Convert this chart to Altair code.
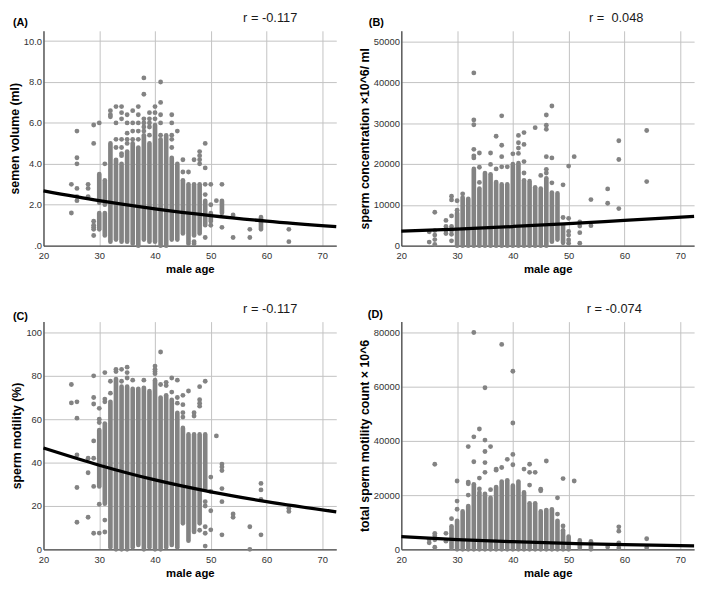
import altair as alt
import pandas as pd

FONT = "Liberation Sans"
GRAY = "#838383"
X_TICKS = [20, 30, 40, 50, 60, 70]

# ---------------- Panel A: semen volume (ml) ----------------
A_segs = [(30, 2.1, 3.5), (30, 0.8, 1.6), (31, 2.0, 3.2), (31, 0.5, 1.6),
          (32, 0.2, 5.0), (33, 0.3, 4.2), (34, 0.2, 4.0), (35, 0.2, 4.6),
          (36, 0.1, 5.0), (37, 0.0, 4.8), (38, 0.3, 5.4), (39, 0.2, 5.0),
          (40, 0.2, 5.9), (41, 0.0, 5.2), (42, 0.0, 5.4), (43, 0.3, 4.3),
          (44, 0.3, 4.0), (45, 0.6, 3.2), (46, 0.1, 3.0), (47, 0.5, 3.0),
          (48, 0.6, 3.0), (49, 1.0, 2.2), (50, 1.2, 1.6), (52, 1.6, 2.2),
          (59, 0.8, 1.4)]
A_pts = [(25, 3.0), (25, 1.6), (26, 5.6), (26, 4.3), (26, 4.0), (26, 2.8), (26, 2.4), (26, 2.2),
         (28, 3.0), (28, 2.8), (28, 2.4), (29, 5.9), (29, 5.0), (29, 1.2), (29, 1.0), (29, 0.9),
         (29, 0.8), (29, 0.5), (30, 6.0), (31, 4.0), (32, 6.6), (32, 6.4), (32, 6.3),
         (33, 6.8), (33, 6.0), (33, 5.2), (33, 4.8), (34, 6.8), (34, 6.5), (34, 6.2), (34, 5.2),
         (34, 4.8), (34, 4.5), (34, 4.4), (35, 6.4), (35, 6.0), (35, 5.5), (35, 5.2), (35, 5.0),
         (36, 6.6), (36, 6.0), (36, 5.6), (36, 5.2), (37, 6.8), (37, 6.4), (37, 6.0), (37, 5.6),
         (37, 5.2), (38, 8.2), (38, 7.4), (38, 6.2), (38, 6.0), (38, 5.8), (38, 5.6),
         (39, 6.5), (39, 6.2), (39, 6.0), (39, 5.8), (39, 5.4), (40, 6.8), (40, 6.5), (40, 6.2),
         (41, 8.0), (41, 7.0), (41, 6.4), (41, 6.0), (41, 5.4), (43, 6.4), (43, 6.0), (43, 5.4),
         (43, 5.2), (43, 4.8), (44, 5.6), (45, 4.2), (45, 3.6), (46, 3.6), (47, 4.2), (47, 0.2),
         (47, 0.1), (48, 4.6), (48, 4.4), (48, 4.2), (48, 4.0), (49, 5.0), (49, 3.8), (49, 3.0),
         (49, 2.5), (49, 0.4), (50, 3.0), (50, 2.0), (50, 1.0), (51, 2.2), (52, 3.0), (52, 0.9),
         (54, 1.5), (54, 0.4), (57, 0.8), (57, 0.4), (64, 0.8), (64, 0.2)]
A_fit = [(20, 2.68), (30, 2.2), (40, 1.8), (50, 1.47), (60, 1.2), (72.5, 0.93)]

# ---------------- Panel B: sperm concentration ----------------
B_segs = [(30, 0, 8000), (31, 0, 11800), (32, 0, 11500), (33, 0, 18800), (34, 0, 14000),
          (35, 0, 17800), (36, 0, 17500), (37, 0, 15600), (38, 0, 15000), (39, 0, 15000),
          (40, 0, 20000), (41, 0, 20200), (42, 0, 16000), (43, 0, 15800), (44, 0, 14300),
          (45, 0, 14000), (46, 0, 16500), (47, 1000, 13000), (48, 1500, 12800), (49, 700, 5000)]
B_pts = [(25, 3400), (25, 900), (26, 8200), (26, 3700), (26, 2600), (26, 1500), (26, 300),
         (28, 6200), (28, 4700), (28, 3800), (28, 3000), (29, 12100), (29, 11200), (29, 7300),
         (29, 4700), (29, 3700), (29, 2800), (29, 1200), (30, 11000), (30, 8700), (31, 12700),
         (33, 42300), (33, 30800), (33, 29600), (33, 23600), (33, 22000), (33, 21500),
         (34, 22700), (34, 19200), (34, 15500), (36, 22700), (36, 19900), (37, 26800), (37, 18800),
         (38, 31800), (38, 24600), (38, 21800), (38, 19300), (39, 19300), (40, 22500),
         (41, 27000), (41, 25200), (41, 23900), (41, 22600), (42, 27700), (42, 24800),
         (42, 20600), (42, 17800), (44, 28900), (45, 17200), (46, 32000), (46, 29500),
         (46, 28500), (46, 21800), (46, 18700), (46, 17800), (47, 34200), (47, 21500),
         (47, 15400), (49, 14900), (49, 6900), (50, 19500), (50, 6700), (50, 3500), (50, 2600),
         (50, 1400), (50, 600), (51, 21800), (52, 5800), (52, 4800), (52, 3200), (52, 600),
         (54, 11300), (54, 4900), (57, 13900), (57, 10400), (59, 25700), (59, 21100), (59, 9100),
         (64, 28200), (64, 15700)]
B_fit = [(20, 3600), (30, 4050), (40, 4700), (50, 5400), (60, 6200), (72.5, 7200)]

# ---------------- Panel C: sperm motility (%) ----------------
C_segs = [(30, 29, 55), (31, 21, 58), (32, 1, 68), (33, 0, 78.5), (34, 0, 75), (35, 0, 75),
          (36, 1, 74), (37, 2, 74), (38, 0, 74.5), (39, 1, 73), (40, 0, 78), (41, 0, 70),
          (42, 1, 71), (43, 2, 69), (44, 1, 63), (45, 12, 56), (46, 4, 53), (47, 8, 53),
          (48, 12, 53), (49, 28, 53)]
C_pts = [(25, 76), (25, 67.5), (26, 68), (26, 60.5), (26, 43.5), (26, 28.5), (26, 12.5),
         (28, 42), (28, 35.3), (28, 14.8), (29, 80), (29, 70), (29, 67), (29, 50), (29, 42),
         (29, 29), (29, 7.4), (30, 65), (30, 60), (30, 58.5), (30, 20.8), (30, 7.5),
         (31, 81.5), (31, 69.3), (31, 68), (31, 13.5), (31, 8), (32, 77.5), (32, 72),
         (33, 83), (33, 82), (34, 83), (34, 77.5), (35, 84), (35, 81.5), (35, 79), (36, 78),
         (38, 78), (40, 84.5), (40, 83), (40, 82), (40, 81), (41, 91), (41, 76), (42, 77),
         (42, 75.5), (43, 79), (43, 72.5), (44, 78), (44, 70), (44, 67.4), (45, 71), (45, 66.7),
         (45, 63), (45, 61), (46, 73), (47, 63), (47, 61.5), (48, 75), (48, 69), (48, 67.4),
         (48, 66), (48, 8.8), (49, 77.5), (49, 22), (49, 20), (49, 10.4), (49, 7.4), (49, 1.5),
         (50, 33.3), (50, 26.7), (50, 17.8), (50, 9), (51, 52.3), (52, 39.3), (52, 38),
         (52, 36.3), (52, 28), (52, 22), (52, 6.7), (54, 16.3), (54, 14.8), (57, 10.4), (57, 0),
         (59, 30.4), (59, 27.4), (59, 23), (59, 6.7), (64, 19), (64, 17.5)]
C_fit = [(20, 46.7), (30, 38.8), (40, 32), (50, 26.5), (60, 22), (72.5, 17.3)]

# ---------------- Panel D: total sperm motility count ----------------
D_segs = [(29, 500, 8500), (30, 0, 10500), (31, 0, 14000), (32, 0, 16000), (33, 0, 24000),
          (34, 0, 21000), (35, 0, 20500), (36, 0, 19000), (37, 0, 23000), (38, 0, 25000),
          (39, 0, 25500), (40, 0, 23500), (41, 0, 25000), (42, 0, 21000), (43, 0, 17000),
          (44, 0, 17000), (45, 0, 14000), (46, 0, 14500), (47, 0, 14800), (48, 0, 10500),
          (49, 0, 7000), (50, 0, 4700), (52, 500, 3300), (54, 0, 3000)]
D_pts = [(25, 3600), (25, 2400), (26, 31400), (26, 5900), (26, 5000), (26, 3500), (26, 800),
         (28, 5900), (28, 3000), (29, 11300), (30, 25200), (30, 17800), (30, 14800),
         (32, 37900), (32, 24800), (32, 24200), (32, 20000), (33, 80000), (33, 41500),
         (33, 32300), (34, 44400), (34, 26300), (34, 22300), (35, 59600), (35, 40300),
         (35, 36100), (35, 32000), (35, 28400), (36, 37900), (36, 22000), (37, 29600),
         (37, 29200), (38, 75600), (38, 30200), (39, 33200), (40, 65700), (40, 46600),
         (40, 35000), (40, 31200), (42, 29600), (43, 31400), (43, 28400), (43, 23700),
         (44, 28400), (45, 22200), (45, 21600), (46, 32600), (48, 19000), (48, 13000),
         (49, 26100), (49, 8600), (51, 25200), (57, 900), (59, 8300), (59, 6700), (59, 2400),
         (59, 500), (64, 3900), (64, 600)]
D_fit = [(20, 4700), (30, 3600), (40, 2800), (50, 2200), (60, 1700), (72.5, 1300)]

W = 297


def panel(segs, pts, fit, ydom, yticks, ytitle, letter, letter_xy, rtext, r_x, h,
          label_expr=None, fmt=None):
    seg_df = pd.DataFrame(segs, columns=["age", "lo", "hi"])
    pt_df = pd.DataFrame(pts, columns=["age", "val"])
    fit_df = pd.DataFrame(fit, columns=["age", "val"])

    xs = alt.Scale(domain=[20, 72.5], nice=False, zero=False)
    ys = alt.Scale(domain=ydom, nice=False, zero=False)
    xax = alt.Axis(values=X_TICKS, title="male age", labelPadding=5, titlePadding=4,
                   titleFontSize=11.5, labelFlush=False)
    yargs = dict(values=yticks, title=ytitle, labelPadding=2, titlePadding=2,
                 titleFontSize=12.5)
    if label_expr:
        yargs["labelExpr"] = label_expr
    if fmt:
        yargs["format"] = fmt
    yax = alt.Axis(**yargs)

    X = alt.X("age:Q", scale=xs, axis=xax, title="male age")
    rules = alt.Chart(seg_df).mark_rule(color=GRAY, strokeWidth=4.7, strokeCap="round").encode(
        x=X, y=alt.Y("lo:Q", scale=ys, axis=yax, title=ytitle), y2="hi:Q")
    dots = alt.Chart(pt_df).mark_circle(color=GRAY, size=24, opacity=1).encode(
        x=X, y=alt.Y("val:Q", scale=ys, axis=yax, title=ytitle))
    line = alt.Chart(fit_df).mark_line(color="black", strokeWidth=3.3,
                                       interpolate="monotone").encode(
        x=X, y=alt.Y("val:Q", scale=ys, axis=yax, title=ytitle))
    lt = alt.Chart(pd.DataFrame({"t": [letter]})).mark_text(
        align="left", baseline="middle", font=FONT, fontSize=11, fontWeight="bold",
        color="black").encode(x=alt.value(letter_xy[0]), y=alt.value(letter_xy[1]), text="t:N")
    rt = alt.Chart(pd.DataFrame({"t": [rtext]})).mark_text(
        align="center", baseline="middle", font=FONT, fontSize=13,
        color="#1a1a1a").encode(x=alt.value(r_x), y=alt.value(-13), text="t:N")
    return alt.layer(rules, dots, line, lt, rt).properties(width=W, height=h)


H1, H2 = 218, 231

pA = panel(A_segs, A_pts, A_fit, [0, 10.5], [0, 2, 4, 6, 8, 10], "semen volume (ml)",
           "(A)", (-31, -8), "r = -0.117", 230, H1,
           label_expr="datum.value == 0 ? '.0' : format(datum.value, '.1f')")
pB = panel(B_segs, B_pts, B_fit, [0, 52600], [0, 10000, 20000, 30000, 40000, 50000],
           "sperm concentration \u00d710^6/ ml", "(B)", (-33, -8), "r = \u00a00.048", 218, H1,
           fmt="d")
pC = panel(C_segs, C_pts, C_fit, [0, 105], [0, 20, 40, 60, 80, 100], "sperm motility (%)",
           "(C)", (-31, -5), "r = -0.117", 230, H2)
pD = panel(D_segs, D_pts, D_fit, [0, 84000], [0, 20000, 40000, 60000, 80000],
           "total sperm motility count \u00d7 10^6", "(D)", (-34, -7), "r = -0.074", 216, H2,
           fmt="d")

chart = alt.concat(
    pA, pB, pC, pD, columns=2, bounds="flush",
    spacing={"row": 77, "column": 66},
).properties(
    padding={"left": 0, "top": 0, "right": 0, "bottom": 0}
).configure_view(
    stroke=None
).configure_axis(
    labelFont=FONT, labelFontSize=9.5, labelColor="#333333",
    titleFont=FONT, titleFontWeight="bold", titleColor="black",
    ticks=False, tickSize=0,
    domainColor="#4a4a4a", domainWidth=1.3,
    gridColor="#c2c2c2", gridWidth=1,
)

chart.save("out.html", embed_options={"renderer": "svg", "actions": False})
